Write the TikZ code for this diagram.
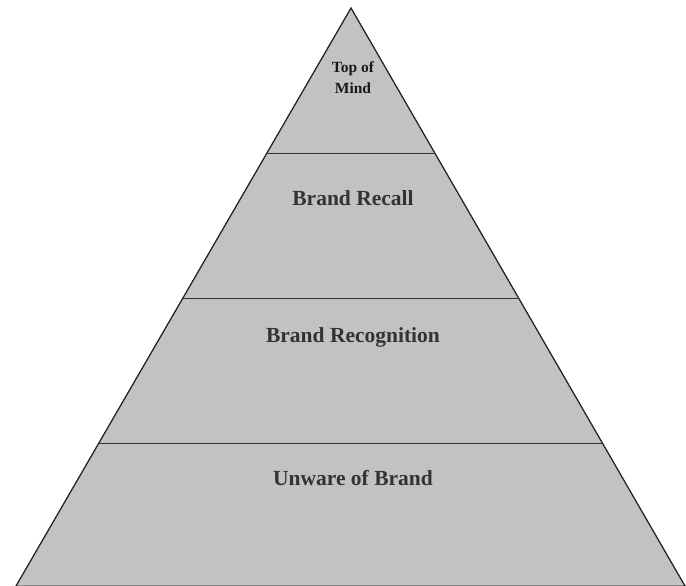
\documentclass[tikz,border=0pt]{standalone}
\usepackage{fontspec}
\setmainfont{Liberation Serif}
\usepackage{tikz}
\usepackage{xcolor}
\usetikzlibrary{calc}
\usetikzlibrary{positioning}
\tikzstyle{pyramid} = [draw=black!85, line width=1pt, fill=gray!48]
\tikzstyle{divider} = [draw=black!80, line width=1.1pt]
\tikzstyle{level} = [text=black!80, font=\bfseries\fontsize{21.5}{23}\selectfont, align=center]
\tikzstyle{small} = [text=black!90, font=\bfseries\fontsize{15.5}{21}\selectfont, align=center]

\begin{document}
\begin{tikzpicture}[x=1pt, y=-1pt]
        \useasboundingbox (0,0) rectangle (686,586);
        \coordinate (apex) at (351,8);
        \coordinate (baseL) at (16,586);
        \coordinate (baseR) at (685,586);

        \fill [pyramid] (apex) -- (baseR) -- (baseL) -- cycle;

        % level lines
        \coordinate (l1) at ($(apex)!0.251!(baseL)$);
        \coordinate (r1) at ($(apex)!0.251!(baseR)$);
        \coordinate (l2) at ($(apex)!0.502!(baseL)$);
        \coordinate (r2) at ($(apex)!0.502!(baseR)$);
        \coordinate (l3) at ($(apex)!0.753!(baseL)$);
        \coordinate (r3) at ($(apex)!0.753!(baseR)$);
        \draw [divider] (l1) -- (r1);
        \draw [divider] (l2) -- (r2);
        \draw [divider] (l3) -- (r3);
        \draw [pyramid, fill=none] (baseL) -- (apex) -- (baseR);

        \node (top) [small] at (353,78) {Top of\\ Mind};
        \node (recall) [level] at (353,198) {Brand Recall};
        \node (recognition) [level, below=139pt of recall.center, anchor=center] {Brand Recognition};
        \node (unaware) [level] at (353,478) {Unware of Brand};

    \end{tikzpicture}
\end{document}
